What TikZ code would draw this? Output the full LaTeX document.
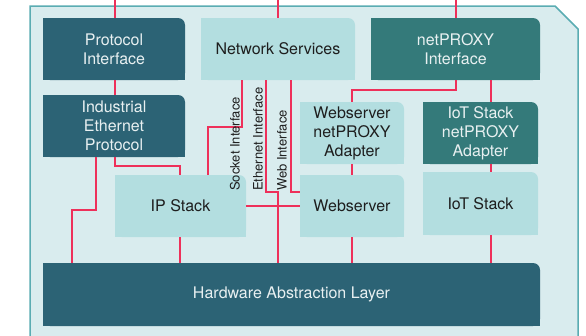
\documentclass[tikz,border=0pt]{standalone}
\usepackage{fontspec}
\setmainfont{TeX Gyre Heros}
\definecolor{cdark}{HTML}{2C6375}
\definecolor{cteal}{HTML}{347A7A}
\definecolor{clight}{HTML}{B3DEE0}
\definecolor{cbg}{HTML}{D9ECEE}
\definecolor{cborder}{HTML}{5AACB2}
\definecolor{cred}{HTML}{EE305A}
\definecolor{cwhite}{HTML}{E8F0F1}
\definecolor{cblack}{HTML}{1E1E1E}
\newcommand{\tbox}[8]{%
  \fill[#6,rounded corners=7pt] (#2,#3) rectangle (#4,#5);
  \fill[#6] (#2,#3+7) rectangle (#4,#5);
  \fill[#6] (#2,#3) rectangle (#4-7,#5);
  \node[boxtext,text=#7,minimum width={(#4-#2)*1pt},minimum height={(#5-#3)*1pt}] (#1) at ({(#2+#4)/2},{(#3+#5)/2}) {#8};
}
\begin{document}
\begin{tikzpicture}[x=1pt,y=-1pt,
  boxtext/.style={inner sep=0pt,align=center,font=\fontsize{16}{19}\selectfont},
  wire/.style={draw=cred,line width=1.6pt},
  vlabel/.style={rotate=90,anchor=west,inner sep=0pt,text=cblack,font=\fontsize{13}{15}\selectfont}]
\useasboundingbox (0,0) rectangle (586,335);
\fill[cbg,draw=cborder,line width=1.5pt] (30,6) -- (555,6) -- (578,29) -- (578,345) -- (30,345) -- cycle;
\tbox{proto}{43}{18}{185}{80}{cdark}{cwhite}{Protocol\\Interface}
\tbox{nsvc}{201}{18}{355}{80}{clight}{cblack}{Network Services}
\tbox{npi}{371}{18}{540}{80}{cteal}{cwhite}{netPROXY\\Interface}
\tbox{iep}{43}{95}{185}{157}{cdark}{cwhite}{Industrial\\Ethernet\\Protocol}
\tbox{wsa}{300}{102}{404}{164}{clight}{cblack}{Webserver\\netPROXY\\Adapter}
\tbox{iota}{423}{102}{538}{164}{cteal}{cwhite}{IoT Stack\\netPROXY\\Adapter}
\tbox{ips}{115}{175}{246}{237}{clight}{cblack}{IP Stack}
\tbox{ws}{300}{175}{404}{237}{clight}{cblack}{Webserver}
\tbox{iot}{423}{172}{538}{235}{clight}{cblack}{IoT Stack}
\tbox{hal}{43}{263}{540}{326}{cdark}{cwhite}{Hardware Abstraction Layer}
\coordinate (t1) at (115,0);
\coordinate (t2) at (278,0);
\coordinate (t3) at (456,0);
\draw[wire] (t1) -- (t1 |- proto.north);
\draw[wire] (t2) -- (t2 |- nsvc.north);
\draw[wire] (t3) -- (t3 |- npi.north);
\draw[wire] (115,0 |- proto.south) -- (115,0 |- iep.north);
\draw[wire] (96,0 |- iep.south) -- (96,210) -| (72,0 |- hal.north);
\draw[wire] (115,0 |- iep.south) |- (180,166) -- (180,0 |- ips.north);
\draw[wire] (242,0 |- nsvc.south) |- (208,127) -- (208,0 |- ips.north);
\draw[wire] (266,0 |- nsvc.south) |- (278,192) -- (278,0 |- hal.north);
\draw[wire] (291,0 |- nsvc.south) |- (ws.west |- 0,192);
\draw[wire] (ips.east) -- (ws.west);
\draw[wire] (456,0 |- npi.south) |- (352,90) -- (wsa.north);
\draw[wire] (491,0 |- npi.south) -- (491,0 |- iota.north);
\draw[wire] (wsa.south) -- (ws.north);
\draw[wire] (491,0 |- iota.south) -- (491,0 |- iot.north);
\draw[wire] (180,0 |- ips.south) -- (180,0 |- hal.north);
\draw[wire] (ws.south) -- (ws.south |- hal.north);
\draw[wire] (491,0 |- iot.south) -- (491,0 |- hal.north);
\node[vlabel] (lsock) at (235,191) {Socket Interface};
\node[vlabel] (leth) at (258,191) {Ethernet Interface};
\node[vlabel] (lweb) at (282,191) {Web Interface};
\end{tikzpicture}
\end{document}
